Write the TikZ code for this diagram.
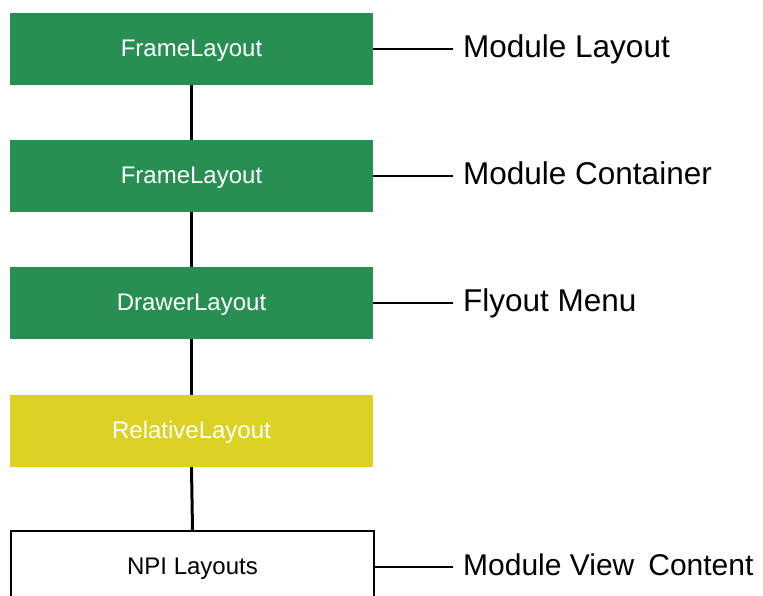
\documentclass[tikz,border=0pt]{standalone}
\usepackage{fontspec}
\setmainfont{Liberation Sans}
\definecolor{boxgreen}{HTML}{278F52}
\definecolor{boxyellow}{HTML}{DCD223}
\begin{document}
\begin{tikzpicture}[x=1pt,y=1pt,
  layoutbox/.style={minimum width=363pt,minimum height=72pt,inner sep=0pt,text height=17pt,text depth=1pt,font=\fontsize{24}{27}\selectfont},
  greenbox/.style={layoutbox,fill=boxgreen,text=white},
  yellowbox/.style={layoutbox,fill=boxyellow,text=white},
  plainbox/.style={layoutbox,draw=black,line width=1.5pt,fill=white,text=black},
  tag/.style={anchor=west,inner xsep=10pt,inner ysep=0pt,text height=22pt,text depth=4pt,font=\fontsize{31.5}{34}\selectfont},
  vlink/.style={line width=3pt,black},
  leader/.style={line width=1.4pt,black}]
\useasboundingbox (0,0) rectangle (763,596);
\clip (0,0) rectangle (763,596);
\node[greenbox] (b1) at (191.5,547) {FrameLayout};
\node[greenbox] (b2) at (191.5,420) {FrameLayout};
\node[greenbox] (b3) at (191.5,293) {DrawerLayout};
\node[yellowbox] (b4) at (191.5,165) {RelativeLayout};
\node[plainbox] (b5) at (192.5,29) {NPI Layouts};
\node[tag] (l1) at (453,547) {Module Layout};
\node[tag] (l2) at (453,420) {Module Container};
\node[tag] (l3) at (453,293) {Flyout Menu};
\node[tag,font=\fontsize{30}{33}\selectfont] (l5) at (453,29) {Module View\hspace{14pt}Content};
\draw[vlink] (b1.south) -- (b2.north);
\draw[vlink] (b2.south) -- (b3.north);
\draw[vlink] (b3.south) -- (b4.north);
\draw[vlink] (b4.south) -- (b5.north);
\draw[leader] (b1.east) -- (l1.west);
\draw[leader] (b2.east) -- (l2.west);
\draw[leader] (b3.east) -- (l3.west);
\draw[leader] (b5.east) -- (l5.west);
\end{tikzpicture}
\end{document}
